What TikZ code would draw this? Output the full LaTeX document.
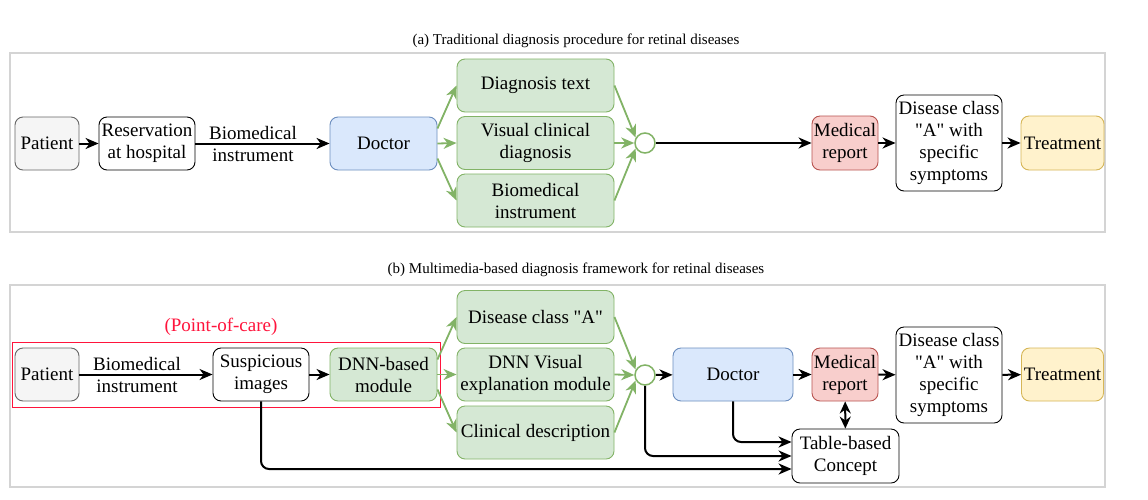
\documentclass[tikz,border=0pt]{standalone}
\usepackage{fontspec}
\setmainfont{Liberation Serif}[Ligatures=TeXOff]
\usetikzlibrary{arrows.meta,calc}
\definecolor{gfill}{HTML}{F5F5F5}\definecolor{gdraw}{HTML}{666666}
\definecolor{bfill}{HTML}{DAE8FC}\definecolor{bdraw}{HTML}{6C8EBF}
\definecolor{grfill}{HTML}{D5E8D4}\definecolor{grdraw}{HTML}{82B366}
\definecolor{rfill}{HTML}{F8CECC}\definecolor{rdraw}{HTML}{B85450}
\definecolor{yfill}{HTML}{FFF2CC}\definecolor{ydraw}{HTML}{D6B656}
\definecolor{framec}{HTML}{D4D4D4}
\definecolor{poc}{RGB}{255,20,60}
\begin{document}
\begin{tikzpicture}[x=1pt,y=-1pt,
  box/.style={draw, rounded corners=8pt, line width=0.9pt, align=center, inner sep=0pt,
    font=\fontsize{19}{22}\selectfont, minimum height=53pt},
  graybox/.style={box, fill=gfill, draw=gdraw},
  bluebox/.style={box, fill=bfill, draw=bdraw},
  greenbox/.style={box, fill=grfill, draw=grdraw, minimum width=157pt},
  redbox/.style={box, fill=rfill, draw=rdraw},
  yellowbox/.style={box, fill=yfill, draw=ydraw},
  whitebox/.style={box, fill=white, draw=black},
  junction/.style={circle, draw=grdraw, fill=white, line width=1.5pt, minimum size=20pt, inner sep=0pt},
  lbl/.style={align=center, inner sep=0pt, font=\fontsize{19}{22}\selectfont},
  captiontext/.style={inner sep=0pt, font=\fontsize{15}{18}\selectfont},
  tip/.style={Stealth[length=13pt,width=11pt,inset=4pt]},
  arr/.style={draw=black, line width=2pt, -{Stealth[length=13pt,width=11pt,inset=4pt]}},
  darr/.style={draw=black, line width=2pt, {Stealth[length=12pt,width=11pt,inset=4pt]}-{Stealth[length=12pt,width=11pt,inset=4pt]}},
  garr/.style={draw=grdraw, line width=1.8pt, -{Stealth[length=13pt,width=11pt,inset=4pt]}},
  framebox/.style={draw=framec, line width=1.3pt}]
\useasboundingbox (0,0) rectangle (1148,499);
\fill[white] (0,0) rectangle (1148,499);

% ---------- panel (a)
\node[captiontext] (capa) at (576,41) {(a) Traditional diagnosis procedure for retinal diseases};
\draw[framebox] (10,53) rectangle (1105,232);

\node[graybox, minimum width=64pt] (pa) at (47,143.5) {Patient};
\node[whitebox, minimum width=96pt] (res) at (147,143.5) {Reservation\\at hospital};
\node[lbl] (laba) at (253,144) {Biomedical\\instrument};
\node[bluebox, minimum width=107pt] (doca) at (383.5,143.5) {Doctor};
\node[greenbox] (g1a) at (535.5,85.5) {Diagnosis text};
\node[greenbox] (g2a) at (535.5,143) {Visual clinical\\diagnosis};
\node[greenbox] (g3a) at (535.5,200.5) {Biomedical\\instrument};
\node[junction] (ca) at (645,143) {};
\node[redbox, minimum width=66pt, minimum height=54pt] (mra) at (845,143) {Medical\\report};
\node[whitebox, minimum width=106pt, minimum height=96pt] (dca) at (949,143) {Disease class\\"A" with\\specific\\symptoms};
\node[yellowbox, minimum width=83pt, minimum height=54pt] (tra) at (1062.5,143) {Treatment};

\draw[arr] (pa) -- (res);
\draw[arr] (res) -- (doca);
\draw[garr] ($(doca.east)+(0,-15)$) -- (g1a.west);
\draw[garr] (doca.east) -- (g2a.west);
\draw[garr] ($(doca.east)+(0,15)$) -- (g3a.west);
\draw[garr] (g1a.east) -- (ca.150);
\draw[garr] (g2a.east) -- (ca.west);
\draw[garr] (g3a.east) -- (ca.210);
\draw[arr] (ca) -- (mra);
\draw[arr] (mra) -- (dca);
\draw[arr] (dca) -- (tra);

% ---------- panel (b)
\node[captiontext] (capb) at (576,270) {(b) Multimedia-based diagnosis framework for retinal diseases};
\draw[framebox] (10,285) rectangle (1105,487);

\draw[draw=poc, line width=1pt] (12,342) rectangle (440,407);
\node[lbl, text=poc] (poclab) at (221,327) {(Point-of-care)};

\node[graybox, minimum width=64pt] (pb) at (47,374.5) {Patient};
\node[lbl] (labb) at (137,375) {Biomedical\\instrument};
\node[whitebox, minimum width=96pt] (sus) at (261,374.5) {Suspicious\\images};
\node[greenbox, minimum width=107pt] (dnn) at (383.5,374.5) {DNN-based\\module};
\node[greenbox] (g1b) at (535.5,317) {Disease class "A"};
\node[greenbox] (g2b) at (535.5,374.5) {DNN Visual\\explanation module};
\node[greenbox] (g3b) at (535.5,432.5) {Clinical description};
\node[junction] (cb) at (645,375) {};
\node[bluebox, minimum width=120pt] (docb) at (733,374.5) {Doctor};
\node[redbox, minimum width=66pt] (mrb) at (845,374.5) {Medical\\report};
\node[whitebox, minimum width=106pt, minimum height=96pt] (dcb) at (949,375) {Disease class\\"A" with\\specific\\symptoms};
\node[yellowbox, minimum width=82pt] (trb) at (1062.5,374.5) {Treatment};
\node[whitebox, minimum width=107pt, minimum height=54pt] (tab) at (845.5,456) {Table-based\\Concept};

\draw[arr] (pb) -- (sus);
\draw[arr] (sus) -- (dnn);
\draw[garr] ($(dnn.east)+(0,-15)$) -- (g1b.west);
\draw[garr] (dnn.east) -- (g2b.west);
\draw[garr] ($(dnn.east)+(0,15)$) -- (g3b.west);
\draw[garr] (g1b.east) -- (cb.150);
\draw[garr] (g2b.east) -- (cb.west);
\draw[garr] (g3b.east) -- (cb.210);
\draw[arr] (cb) -- (docb);
\draw[arr] (docb) -- (mrb);
\draw[arr] (mrb) -- (dcb);
\draw[arr] (dcb) -- (trb);
\draw[darr] (mrb) -- (tab);
\draw[arr, rounded corners=8pt] (docb.south) |- ($(tab.west)+(0,-14)$);
\draw[arr, rounded corners=8pt] (cb.south) |- (tab.west);
\draw[arr, rounded corners=8pt] (sus.south) |- ($(tab.west)+(0,13)$);
\end{tikzpicture}
\end{document}
